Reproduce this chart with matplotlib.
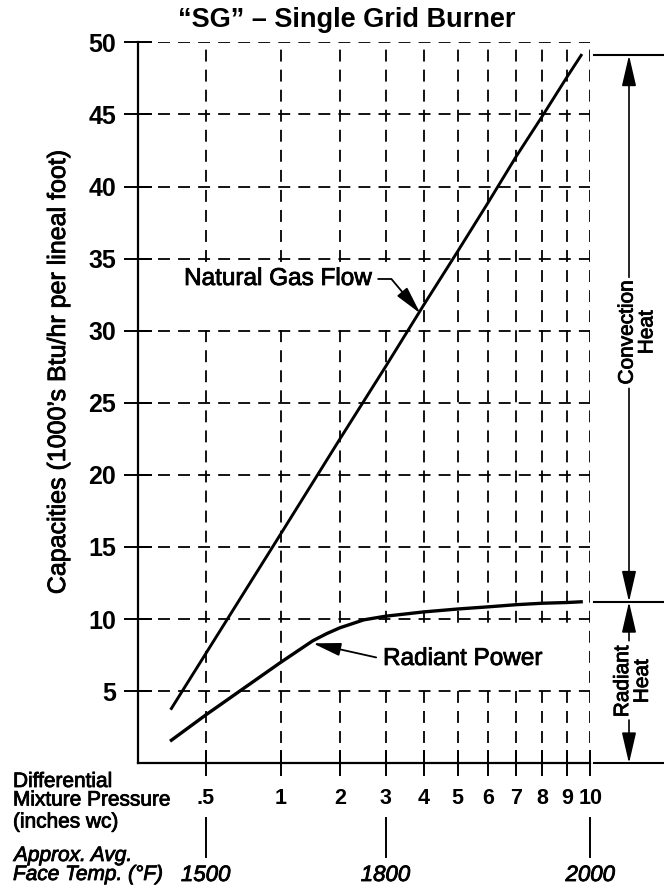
import numpy as np
import matplotlib
matplotlib.use('Agg')
import matplotlib.pyplot as plt
import matplotlib.patheffects as pe
from matplotlib.transforms import blended_transform_factory
from matplotlib.patches import Rectangle
from matplotlib.lines import Line2D

# ---------------- data ----------------
pressure_ticks = [0.5, 1, 2, 3, 4, 5, 6, 7, 8, 9, 10]
pressure_labels = ['.5', '1', '2', '3', '4', '5', '6', '7', '8', '9', '10']
capacity_ticks = [5, 10, 15, 20, 25, 30, 35, 40, 45, 50]

gas_pressure = [0.26, 0.5, 1, 2, 3, 4, 5, 6, 7, 8, 9, 9.6]
gas_flow = [3.8, 7.6, 15.9, 22.5, 27.5, 31.8, 35.5, 38.9, 42.1, 44.9, 47.6, 49.1]

rad_pressure = [0.26, 0.5, 1, 1.5, 1.75, 2, 2.5, 3, 4, 5, 6, 7, 8, 9, 9.6]
rad_power = [1.6, 3.35, 7.0, 8.5, 9.0, 9.4, 9.95, 10.2, 10.5, 10.7, 10.85, 11.0, 11.1, 11.15, 11.2]

temp_pressure = [0.5, 3, 10]
temp_labels = ['1500', '1800', '2000']

# ---------------- style ----------------
plt.rcParams['font.family'] = ['Liberation Sans', 'DejaVu Sans']
heavy = [pe.withStroke(linewidth=0.6, foreground='black')]

W, H = 664, 894
def fx(px):
    return px / W
def fy(py):
    return 1 - py / H

P = 1.07
def fwd(x):
    x = np.asarray(x, dtype=float)
    a = np.abs(x)
    return np.where(a < 1, np.sign(x) * a ** P, np.sign(x) * np.sqrt(a))

def inv(y):
    y = np.asarray(y, dtype=float)
    a = np.abs(y)
    return np.where(a < 1, np.sign(y) * a ** (1 / P), np.sign(y) * a ** 2)

fig = plt.figure(figsize=(6.64, 8.94), dpi=100)
fig.patch.set_facecolor('white')
ax = fig.add_axes([fx(137.5), fy(763.3), (590.3 - 137.5) / W, (763.3 - 42.3) / H])
ax.set_xscale('function', functions=(fwd, inv))

for s in ('top', 'right'):
    ax.spines[s].set_visible(False)
for s in ('left', 'bottom'):
    ax.spines[s].set_linewidth(1.6)

ax.set_axisbelow(True)
ax.grid(True, color='black', lw=1.3, linestyle=(0, (6.6, 4.5)))

ax.set_xticks(pressure_ticks, labels=pressure_labels, fontweight='bold')
ax.set_yticks(capacity_ticks, labels=[str(v) for v in capacity_ticks], fontweight='bold')
ax.tick_params(axis='y', direction='inout', length=20, width=1.4, pad=5.5, labelsize=18)
ax.tick_params(axis='x', direction='inout', length=19, width=1.4, pad=8, labelsize=15.5)

# white label boxes (they hide the grid behind the labels)
ax.add_patch(Rectangle((0.42, 30.4), 2.9, 4.2, facecolor='white', edgecolor='none', zorder=1))
ax.add_patch(Rectangle((1.85, 5.25), 7.75, 4.5, facecolor='white', edgecolor='none', zorder=1))

# curves
ax.plot(gas_pressure, gas_flow, color='black', lw=2.1, zorder=4)
ax.plot(rad_pressure, rad_power, color='black', lw=2.4, zorder=4, solid_joinstyle='round')

# curve labels
arrow_kw = dict(arrowstyle='-|>,head_length=0.85,head_width=0.2', color='black', lw=1.3,
                shrinkA=3, shrinkB=0, mutation_scale=20)
ax.annotate('Natural Gas Flow', xy=(3.9, 31.2), xytext=(0.35, 33.17), ha='left', va='baseline',
            fontsize=17.5, zorder=5, path_effects=heavy,
            arrowprops=dict(arrow_kw, connectionstyle='angle,angleA=0,angleB=130,rad=0', relpos=(1, 0.5)))
ax.annotate('Radiant Power', xy=(1.5, 8.32), xytext=(2.94, 6.82), ha='left', va='baseline',
            fontsize=17.5, zorder=5, path_effects=heavy, arrowprops=dict(arrow_kw, relpos=(0, 0.5)))

# right-hand bracket
trR = blended_transform_factory(fig.transFigure, ax.transData)
for yv in (gas_flow[-1], rad_power[-1], 0):
    fig.add_artist(Line2D([fx(594), fx(663)], [yv, yv], transform=trR, color='black', lw=1.5))
xa = fx(629)
br_kw = dict(arrowstyle='-|>,head_length=0.95,head_width=0.22', color='black', lw=1.2,
             shrinkA=0, shrinkB=0, mutation_scale=20)
for y_from, y_to in ((33.7, gas_flow[-1]), (26.0, rad_power[-1]), (8.5, rad_power[-1]), (3.0, 0)):
    ax.annotate('', xy=(xa, y_to), xytext=(xa, y_from), xycoords=trR, textcoords=trR,
                arrowprops=br_kw, annotation_clip=False)
ax.text(fx(637), 29.9, 'Convection\nHeat', transform=trR, rotation=90, ha='center', va='center',
        fontsize=15, linespacing=1.05, multialignment='center', path_effects=heavy)
ax.text(fx(632.5), 5.7, 'Radiant\nHeat', transform=trR, rotation=90, ha='center', va='center',
        fontsize=15, linespacing=1.05, multialignment='center', path_effects=heavy)

# temperature scale below the pressure axis
trT = blended_transform_factory(ax.transData, fig.transFigure)
for p, lab in zip(temp_pressure, temp_labels):
    ax.add_line(Line2D([p, p], [fy(818), fy(857)], transform=trT, color='black', lw=1.4, clip_on=False))
    ax.text(p, fy(881), lab, transform=trT, ha='center', va='baseline', fontsize=16, style='italic',
            path_effects=heavy)

# axis texts
fig.text(fx(347), fy(27), '\u201cSG\u201d \u2013 Single Grid Burner', ha='center', va='baseline',
         fontsize=19.5, fontweight='bold')
fig.text(fx(58), fy(372), 'Capacities (1000\u2019s Btu/hr per lineal foot)', rotation=90,
         ha='center', va='center', fontsize=18, path_effects=heavy)
fig.text(fx(13), fy(787), 'Differential', fontsize=15, va='baseline', path_effects=heavy)
fig.text(fx(13), fy(805.5), 'Mixture Pressure', fontsize=15, va='baseline', path_effects=heavy)
fig.text(fx(13), fy(827.5), '(inches wc)', fontsize=15, va='baseline', path_effects=heavy)
fig.text(fx(14), fy(861), 'Approx. Avg.', fontsize=15, va='baseline', style='italic', path_effects=heavy)
fig.text(fx(13), fy(880), 'Face Temp. (\u00b0F)', fontsize=15, va='baseline', style='italic',
         path_effects=heavy)

ax.set_xlim(0, 10)
ax.set_ylim(0, 50)

fig.savefig('out.png', dpi=100, facecolor='white')
